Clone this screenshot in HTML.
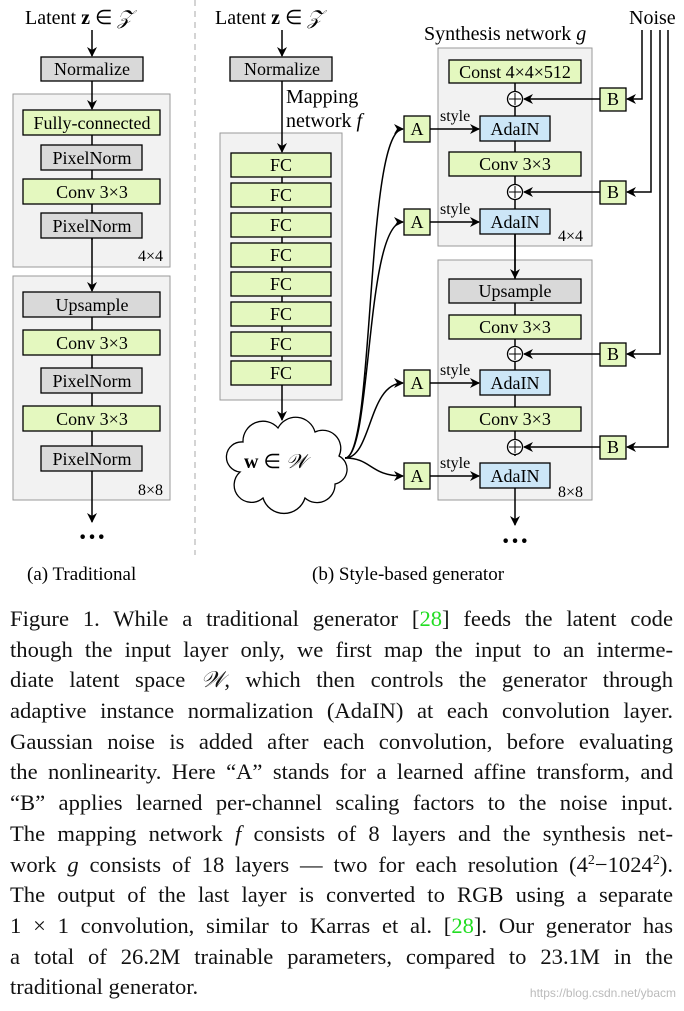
<!DOCTYPE html>
<html><head><meta charset="utf-8"><style>
body{margin:0;width:684px;height:1011px;background:#fff;position:relative;overflow:hidden;font-family:"Liberation Serif",serif}
svg{position:absolute;left:0;top:0;font-family:"Liberation Serif",serif}
svg text{font-family:"Liberation Serif",serif}
.p{position:absolute;left:10px;width:663px;font-size:22.6px;line-height:30.7px;top:604px;color:#111}
.l{text-align:justify;text-align-last:justify;white-space:nowrap;height:30.7px}
.l span.g{color:#22dd22}
sup{font-size:14px;line-height:0;vertical-align:8px}
.last{text-align:left;text-align-last:left}
.wm{position:absolute;right:8px;top:986px;font-family:"Liberation Sans",sans-serif;font-size:12px;color:#bbb}
</style></head><body>
<svg width="684" height="600" viewBox="0 0 684 600" font-size="17">
<defs><marker id="ar" markerWidth="10" markerHeight="10" refX="9" refY="5" orient="auto" markerUnits="userSpaceOnUse"><path d="M0,0 L10,5 L0,10 L3,5z" fill="#000"/></marker></defs>
<g font-size="20">
<text x="25" y="24">Latent <tspan font-weight="bold">z</tspan> ∈ <tspan font-style="italic">𝒵</tspan></text>
<text x="215" y="24">Latent <tspan font-weight="bold">z</tspan> ∈ <tspan font-style="italic">𝒵</tspan></text>
<text x="424" y="40">Synthesis network <tspan font-style="italic">g</tspan></text>
<text x="629" y="24">Noise</text>
<text x="286" y="103">Mapping</text>
<text x="286" y="127">network <tspan font-style="italic">f</tspan></text>
</g>
<line x1="195" y1="0" x2="195" y2="555" stroke="#aaa" stroke-dasharray="6,5"/>
<g stroke="#999" fill="#f2f2f2">
<rect x="13" y="94" width="157" height="173"/><rect x="13" y="276" width="157" height="224"/>
<rect x="220" y="133" width="122" height="267"/>
<rect x="438" y="48" width="154" height="198"/><rect x="438" y="260" width="154" height="240"/>
</g>
<g stroke="#000" stroke-width="1.5" fill="none">
<line x1="92" y1="30" x2="92" y2="56" marker-end="url(#ar)"/>
<line x1="92" y1="81" x2="92" y2="109" marker-end="url(#ar)"/>
<line x1="92" y1="135" x2="92" y2="240"/>
<line x1="92" y1="238" x2="92" y2="291" marker-end="url(#ar)"/>
<line x1="92" y1="317" x2="92" y2="446"/>
<line x1="92" y1="471" x2="92" y2="522" marker-end="url(#ar)"/>
<line x1="282" y1="30" x2="282" y2="56" marker-end="url(#ar)"/>
<line x1="282" y1="81" x2="282" y2="152" marker-end="url(#ar)"/>
<line x1="282" y1="160" x2="282" y2="370"/>
<line x1="282" y1="385" x2="282" y2="420" marker-end="url(#ar)"/>
<line x1="515" y1="83" x2="515" y2="456"/>
<line x1="515" y1="234" x2="515" y2="278" marker-end="url(#ar)"/>
<line x1="515" y1="488" x2="515" y2="525" marker-end="url(#ar)"/>
<path d="M345,458 C375,458 365,129 403,129" marker-end="url(#ar)"/>
<path d="M345,458 C372,458 365,222 403,222" marker-end="url(#ar)"/>
<path d="M345,458 C372,458 368,383 403,383" marker-end="url(#ar)"/>
<path d="M345,458 C372,458 370,476 403,476" marker-end="url(#ar)"/>
<line x1="430" y1="129" x2="479" y2="129" marker-end="url(#ar)"/>
<line x1="430" y1="222" x2="479" y2="222" marker-end="url(#ar)"/>
<line x1="430" y1="383" x2="479" y2="383" marker-end="url(#ar)"/>
<line x1="430" y1="476" x2="479" y2="476" marker-end="url(#ar)"/>
<line x1="600" y1="99" x2="524" y2="99" marker-end="url(#ar)"/>
<line x1="600" y1="192" x2="524" y2="192" marker-end="url(#ar)"/>
<line x1="600" y1="354" x2="524" y2="354" marker-end="url(#ar)"/>
<line x1="600" y1="447" x2="524" y2="447" marker-end="url(#ar)"/>
<path d="M642,30 V99 H627" marker-end="url(#ar)"/>
<path d="M651,30 V192 H627" marker-end="url(#ar)"/>
<path d="M660,30 V354 H627" marker-end="url(#ar)"/>
<path d="M668,30 V447 H627" marker-end="url(#ar)"/>
</g>
<g stroke="#000" stroke-width="1.3">
<g fill="#d9d9d9">
<rect x="41" y="57" width="102" height="24"/><rect x="41" y="145" width="101" height="25"/><rect x="41" y="213" width="101" height="25"/>
<rect x="23" y="292" width="137" height="25"/><rect x="41" y="368" width="101" height="25"/><rect x="41" y="446" width="101" height="25"/>
<rect x="230" y="57" width="102" height="24"/><rect x="449" y="279" width="132" height="24"/>
</g>
<g fill="#e4f8bf">
<rect x="23" y="110" width="137" height="25"/><rect x="23" y="179" width="137" height="25"/>
<rect x="23" y="330" width="137" height="25"/><rect x="23" y="406" width="137" height="25"/>
<rect x="231" y="153" width="100" height="24"/><rect x="231" y="183" width="100" height="24"/><rect x="231" y="213" width="100" height="24"/><rect x="231" y="243" width="100" height="24"/>
<rect x="231" y="272" width="100" height="24"/><rect x="231" y="302" width="100" height="24"/><rect x="231" y="332" width="100" height="24"/><rect x="231" y="361" width="100" height="24"/>
<rect x="449" y="60" width="132" height="23"/><rect x="449" y="152" width="132" height="24"/><rect x="449" y="315" width="132" height="24"/><rect x="449" y="407" width="132" height="24"/>
<rect x="404" y="116" width="26" height="26"/><rect x="404" y="209" width="26" height="26"/><rect x="404" y="370" width="26" height="26"/><rect x="404" y="463" width="26" height="26"/>
<rect x="600" y="88" width="26" height="23"/><rect x="600" y="181" width="26" height="23"/><rect x="600" y="343" width="26" height="23"/><rect x="600" y="436" width="26" height="23"/>
</g>
<g fill="#cce6f7">
<rect x="480" y="116" width="70" height="25"/><rect x="480" y="209" width="70" height="25"/><rect x="480" y="370" width="70" height="25"/><rect x="480" y="463" width="70" height="25"/>
</g>
<g fill="#fff">
<circle cx="515" cy="99" r="7.5"/><circle cx="515" cy="192" r="7.5"/><circle cx="515" cy="354" r="7.5"/><circle cx="515" cy="447" r="7.5"/>
<path d="M240,472 a15,15 0 0 1 3,-30 a20,20 0 0 1 35,-14 a20,20 0 0 1 37,4 a18,18 0 0 1 24,24 a15,15 0 0 1 -4,28 a18,18 0 0 1 -30,14 a22,22 0 0 1 -42,0 a17,17 0 0 1 -23,-26 z"/>
</g>
<path d="M515,93 V105 M509,99 H521 M515,186 V198 M509,192 H521 M515,348 V360 M509,354 H521 M515,441 V453 M509,447 H521" stroke-width="1"/>
</g>
<g text-anchor="middle" font-size="18">
<text x="92" y="75">Normalize</text><text x="282" y="75">Normalize</text>
<text x="92" y="129">Fully-connected</text><text x="92" y="164">PixelNorm</text><text x="92" y="198">Conv 3×3</text><text x="92" y="232">PixelNorm</text>
<text x="92" y="311">Upsample</text><text x="92" y="349">Conv 3×3</text><text x="92" y="387">PixelNorm</text><text x="92" y="425">Conv 3×3</text><text x="92" y="465">PixelNorm</text>
<text x="281" y="171">FC</text><text x="281" y="201">FC</text><text x="281" y="231">FC</text><text x="281" y="261">FC</text><text x="281" y="290">FC</text><text x="281" y="320">FC</text><text x="281" y="350">FC</text><text x="281" y="379">FC</text>
<text x="515" y="78">Const 4×4×512</text><text x="515" y="170">Conv 3×3</text><text x="515" y="297">Upsample</text><text x="515" y="333">Conv 3×3</text><text x="515" y="425">Conv 3×3</text>
<text x="515" y="135">AdaIN</text><text x="515" y="228">AdaIN</text><text x="515" y="389">AdaIN</text><text x="515" y="482">AdaIN</text>
<text x="417" y="135">A</text><text x="417" y="228">A</text><text x="417" y="389">A</text><text x="417" y="482">A</text>
<text x="613" y="105">B</text><text x="613" y="198">B</text><text x="613" y="360">B</text><text x="613" y="453">B</text>
</g>
<g font-size="16">
<text x="138" y="261">4×4</text><text x="138" y="495">8×8</text><text x="558" y="241">4×4</text><text x="558" y="497">8×8</text>
<text x="440" y="121">style</text><text x="440" y="214">style</text><text x="440" y="375">style</text><text x="440" y="468">style</text>
</g>
<text x="244" y="468" font-size="20"><tspan font-weight="bold">w</tspan> ∈ <tspan font-style="italic">𝒲</tspan></text>
<g font-size="28" font-weight="bold" text-anchor="middle"><text x="92" y="546">···</text><text x="515" y="550">···</text></g>
<g font-size="19"><text x="27" y="580">(a) Traditional</text><text x="312" y="580">(b) Style-based generator</text></g>
</svg>
<div class="p">
<div class="l">Figure 1. While a traditional generator [<span class="g">28</span>] feeds the latent code</div>
<div class="l">though the input layer only, we first map the input to an interme-</div>
<div class="l">diate latent space <i>𝒲</i>, which then controls the generator through</div>
<div class="l">adaptive instance normalization (AdaIN) at each convolution layer.</div>
<div class="l">Gaussian noise is added after each convolution, before evaluating</div>
<div class="l">the nonlinearity. Here “A” stands for a learned affine transform, and</div>
<div class="l">“B” applies learned per-channel scaling factors to the noise input.</div>
<div class="l">The mapping network <i>f</i> consists of 8 layers and the synthesis net-</div>
<div class="l">work <i>g</i> consists of 18 layers — two for each resolution (4<sup>2</sup>−1024<sup>2</sup>).</div>
<div class="l">The output of the last layer is converted to RGB using a separate</div>
<div class="l">1 × 1 convolution, similar to Karras et al. [<span class="g">28</span>]. Our generator has</div>
<div class="l">a total of 26.2M trainable parameters, compared to 23.1M in the</div>
<div class="l last">traditional generator.</div>
</div>
<div class="wm">https://blog.csdn.net/ybacm</div>
</body></html>
